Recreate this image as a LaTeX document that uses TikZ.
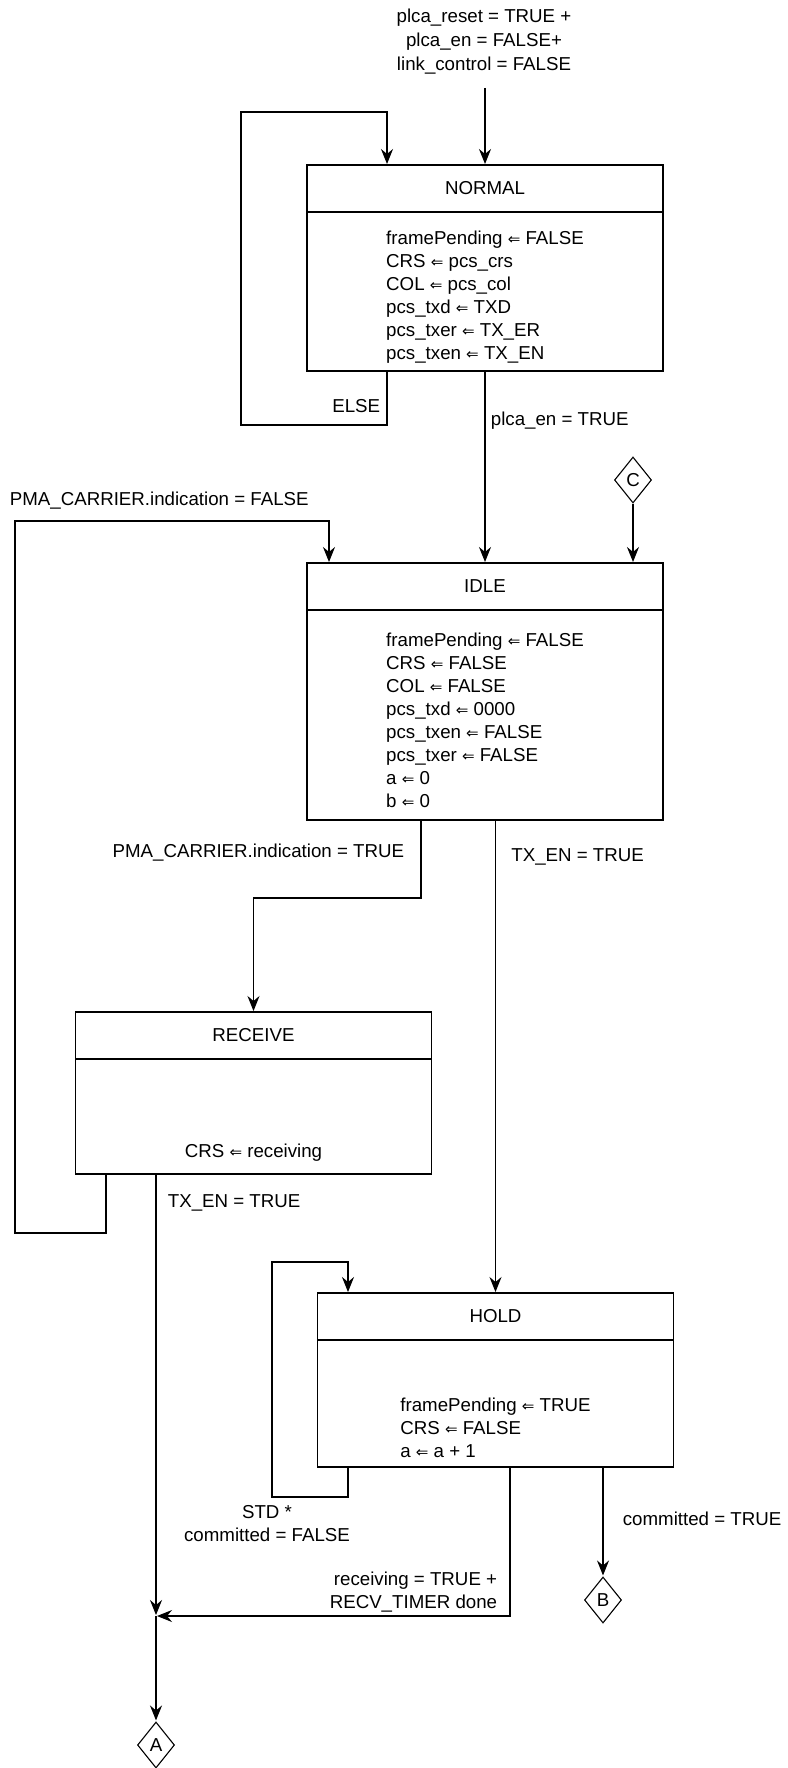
\documentclass[tikz,border=0pt]{standalone}
\usepackage{fontspec}
\setmainfont{Liberation Sans}
\newfontfamily\arrowfont{DejaVu Sans}
\newcommand{\getsarrow}{{\arrowfont\fontsize{15}{23}\selectfont ⇐}}
\usetikzlibrary{calc}
\usetikzlibrary{positioning}
\usetikzlibrary{arrows.meta}
\usetikzlibrary{shapes.geometric}

\begin{document}
\begin{tikzpicture}[x=1pt,y=-1pt,->,>={Stealth[length=15pt,width=12pt,inset=5pt]},
  shorten >=1pt,line width=1.1pt,font=\fontsize{18.7}{23}\selectfont,
  state head/.style={rectangle,draw,minimum width=356pt,minimum height=47pt,
  inner sep=0pt,outer sep=0pt},
  state body/.style={state head,align=left},
  connector/.style={diamond,draw,minimum width=37pt,minimum height=46pt,
  inner sep=0pt}]
  \useasboundingbox (0,0) rectangle (787,1768);

  % estados
  \node[state head] (normal) at (485,188.5) {NORMAL};
  \node[state body,minimum height=159pt,below=0pt of normal] (normalbody)
    {\rule{0pt}{24pt}framePending \getsarrow{} FALSE\\CRS \getsarrow{} pcs\_crs\\
     COL \getsarrow{} pcs\_col\\pcs\_txd \getsarrow{} TXD\\
     pcs\_txer \getsarrow{} TX\_ER\\pcs\_txen \getsarrow{} TX\_EN};
  \node[state head] (idle) at (485,586.5) {IDLE};
  \node[state body,minimum height=210pt,below=0pt of idle] (idlebody)
    {\rule{0pt}{24pt}framePending \getsarrow{} FALSE\\CRS \getsarrow{} FALSE\\
     COL \getsarrow{} FALSE\\pcs\_txd \getsarrow{} 0000\\
     pcs\_txen \getsarrow{} FALSE\\pcs\_txer \getsarrow{} FALSE\\
     a \getsarrow{} 0\\b \getsarrow{} 0};
  \node[state head] (receive) at (253.5,1035.5) {RECEIVE};
  \node[state body,minimum height=115pt,below=0pt of receive] (receivebody)
    {\strut\\\strut\\\strut\\CRS \getsarrow{} receiving};
  \node[state head] (hold) at (495.5,1316.5) {HOLD};
  \node[state body,minimum height=127pt,below=0pt of hold] (holdbody)
    {\strut\\\strut\\framePending \getsarrow{} TRUE\\CRS \getsarrow{} FALSE\\
     a \getsarrow{} a + 1};

  % conectores
  \node[connector] (c) at (633,480) {C};
  \node[connector] (b) at (603,1600) {B};
  \node[connector] (a) at (156,1745) {A};

  \node[align=center,inner sep=0pt,font=\fontsize{18.7}{24}\selectfont] (reset)
    at (484,42) {plca\_reset = TRUE +\\plca\_en = FALSE+\\link\_control = FALSE};
  \coordinate (start) at (485,88);
  \coordinate (join) at (156,1616);

  \draw (start) -- (normal);
  % ELSE
  \draw ([xshift=-98pt]normalbody.south) -- ++(0,54)
    node[pos=0.65,left=3pt] {ELSE}
    -- ++(-146,0) -- ++(0,-313) -- ++(146,0) -- ([xshift=-98pt]normal.north);
  \draw (normalbody) -- (idle) node[pos=0.26,right=2pt] {plca\_en = TRUE};
  \draw (c) -- (c |- idle.north);
  % vuelta a IDLE
  \draw ([xshift=-147.5pt]receivebody.south) -- ++(0,59) -- ++(-91,0)
    -- ++(0,-712)
    node[pos=1,anchor=south west,xshift=-9pt,yshift=8pt] {PMA\_CARRIER.indication = FALSE}
    -- ++(314,0) -- ([xshift=-156pt]idle.north);
  \draw ([xshift=-64pt]idlebody.south) -- ++(0,78)
    node[pos=0.42,left=13pt] {PMA\_CARRIER.indication = TRUE} -| (receive);
  \draw ([xshift=10.5pt]idlebody.south) -- (hold)
    node[pos=0.078,right=12pt] {TX\_EN = TRUE};
  \draw ([xshift=-97.5pt]receivebody.south) -- (join)
    node[pos=0.065,right=8pt] {TX\_EN = TRUE};
  % STD
  \draw ([xshift=-147.5pt]holdbody.south) -- ++(0,30) -- ++(-76,0)
    node[pos=1,below=5pt,xshift=-5pt,align=center] {STD *\\committed = FALSE}
    -- ++(0,-235) -- ++(76,0) -- ([xshift=-147.5pt]hold.north);
  \draw ([xshift=14.5pt]holdbody.south) |- (join)
    node[pos=0.5,anchor=south east,xshift=-9pt,align=right]
    {receiving = TRUE +\\RECV\_TIMER done};
  \draw ([xshift=107.5pt]holdbody.south) -- (b)
    node[pos=0.47,right=16pt] {committed = TRUE};
  \draw (join) -- (a);
\end{tikzpicture}
\end{document}
